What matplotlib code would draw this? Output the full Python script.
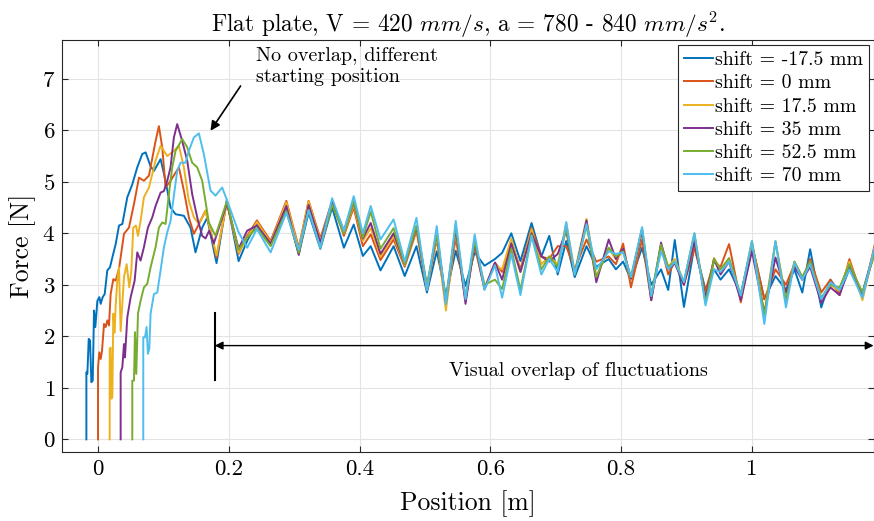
# -*- coding: utf-8 -*-
import numpy as np
import matplotlib
matplotlib.use("Agg")
import matplotlib.pyplot as plt

# Series labels and colours (MATLAB default order)
labels = ["shift = -17.5 mm", "shift = 0 mm", "shift = 17.5 mm",
          "shift = 35 mm", "shift = 52.5 mm", "shift = 70 mm"]
colors = ["#0072BD", "#D95319", "#EDB120", "#7E2F8E", "#77AC30", "#4DBEEE"]

# Start-up part of every run (position [m], force [N])
x_start_m175 = [-0.0178, -0.0178, -0.0163, -0.0142, -0.0122, -0.0102, -0.0081, -0.0061, -0.0041, -0.001,
                0.002, 0.0041, 0.0071, 0.0102, 0.0142, 0.0183, 0.0219, 0.027, 0.0321, 0.0372,
                0.0448, 0.0524, 0.060, 0.0677, 0.0728, 0.0804, 0.0855, 0.0957, 0.1033, 0.1109,
                0.1186, 0.1313, 0.1415, 0.1491, 0.1593, 0.1669, 0.1812]
y_start_m175 = [0.0, 1.30, 1.27, 1.95, 1.92, 1.11, 1.14, 2.50, 2.18, 2.69,
                2.76, 2.63, 2.76, 2.82, 3.28, 3.34, 3.53, 3.79, 4.15, 4.18,
                4.70, 4.95, 5.28, 5.54, 5.57, 5.30, 5.21, 5.44, 5.02, 4.50,
                4.37, 4.34, 4.11, 3.63, 4.11, 4.30, 3.42]

x_start_0 = [0.0, 0.0, 0.002, 0.0041, 0.0061, 0.0092, 0.0117, 0.0142, 0.0168, 0.0193,
             0.0234, 0.027, 0.0321, 0.0397, 0.0473, 0.055, 0.0626, 0.0702, 0.0779, 0.088,
             0.0931, 0.0982, 0.1033, 0.1109, 0.1237, 0.1313, 0.1389, 0.1466, 0.1567, 0.1644,
             0.172, 0.1812]
y_start_0 = [0.0, 1.40, 1.69, 1.56, 1.72, 2.24, 2.18, 2.31, 2.21, 2.82,
             3.11, 3.08, 3.31, 3.99, 4.11, 4.57, 5.08, 5.02, 5.12, 5.79,
             6.08, 5.67, 4.89, 5.02, 5.28, 4.83, 4.31, 3.99, 4.24, 4.44,
             4.05, 3.53]

x_start_175 = [0.0178, 0.0178, 0.0193, 0.0204, 0.0219, 0.0234, 0.0254, 0.027, 0.0295, 0.0321,
               0.0346, 0.0397, 0.0438, 0.0478, 0.0509, 0.0539, 0.058, 0.0611, 0.0651, 0.0702,
               0.0779, 0.088, 0.0957, 0.1059, 0.116, 0.1237, 0.1313, 0.1389, 0.1466, 0.1542,
               0.1644, 0.172, 0.1812]
y_start_175 = [0.0, 1.76, 1.78, 0.79, 0.82, 2.44, 2.07, 2.60, 3.08, 3.34,
               2.10, 3.15, 3.40, 2.95, 3.27, 4.11, 4.15, 3.95, 4.24, 4.70,
               4.89, 5.41, 5.70, 5.50, 5.60, 5.70, 5.28, 4.63, 4.31, 4.18,
               4.44, 4.05, 3.57]

x_start_35 = [0.0346, 0.0346, 0.0372, 0.0397, 0.0412, 0.0448, 0.0499, 0.056, 0.060, 0.0651,
              0.0702, 0.0763, 0.083, 0.088, 0.0957, 0.1008, 0.1059, 0.1109, 0.116, 0.1211,
              0.1288, 0.1364, 0.144, 0.1517, 0.1593, 0.1644, 0.170, 0.177]
y_start_35 = [0.0, 1.30, 1.40, 1.85, 1.59, 2.37, 2.76, 3.08, 3.63, 3.47,
              3.73, 4.11, 4.31, 4.53, 4.79, 4.82, 5.02, 5.28, 5.86, 6.12,
              5.79, 5.41, 4.76, 4.31, 3.95, 3.90, 4.05, 3.80]

x_start_525 = [0.0524, 0.0524, 0.055, 0.0565, 0.0585, 0.0611, 0.0651, 0.0702, 0.0753, 0.0804,
               0.088, 0.0931, 0.0982, 0.1033, 0.1084, 0.1135, 0.1186, 0.1288, 0.1364, 0.144,
               0.1517, 0.1593, 0.1695, 0.1796]
y_start_525 = [0.0, 1.14, 1.14, 2.08, 1.27, 2.44, 2.69, 2.95, 3.02, 3.34,
               3.73, 4.11, 4.21, 4.18, 4.76, 5.28, 5.60, 5.83, 5.67, 5.37,
               5.28, 5.02, 4.21, 3.95]

x_start_70 = [0.0692, 0.0692, 0.0718, 0.0743, 0.0763, 0.0784, 0.0804, 0.0855, 0.0906, 0.0957,
              0.1008, 0.1059, 0.1109, 0.116, 0.1211, 0.1262, 0.1338, 0.1389, 0.1466, 0.1542,
              0.1618, 0.172, 0.1796, 0.1898]
y_start_70 = [0.0, 1.98, 1.98, 2.18, 1.66, 1.76, 2.44, 2.82, 2.85, 3.28,
              3.73, 4.02, 4.24, 4.73, 5.21, 5.37, 5.37, 5.60, 5.86, 5.94,
              5.54, 4.83, 4.73, 4.89]

# Fluctuation part, read at the peaks/troughs (shared positions)
x_fluct = [0.197, 0.215, 0.228, 0.243, 0.264, 0.288, 0.307, 0.322, 0.340, 0.358,
           0.376, 0.391, 0.405, 0.417, 0.432, 0.452, 0.469, 0.487, 0.503, 0.518,
           0.532, 0.547, 0.562, 0.576, 0.591, 0.607, 0.618, 0.632, 0.646, 0.663,
           0.678, 0.690, 0.703, 0.716, 0.729, 0.747, 0.762, 0.781, 0.792, 0.803,
           0.815, 0.832, 0.846, 0.861, 0.872, 0.882, 0.896, 0.912, 0.929, 0.942,
           0.952, 0.965, 0.983, 1.000, 1.019, 1.036, 1.052, 1.065, 1.077, 1.089,
           1.106, 1.120, 1.134, 1.149, 1.169, 1.190]

y_fluct_m175 = [4.65, 3.46, 3.85, 4.20, 3.78, 4.45, 3.60, 4.40, 3.70, 4.50,
                3.72, 4.17, 3.56, 3.75, 3.28, 3.75, 3.17, 3.75, 2.85, 3.65,
                2.79, 3.66, 2.98, 3.63, 3.37, 3.50, 3.62, 4.00, 3.46, 4.20,
                3.55, 3.95, 3.20, 3.85, 3.15, 3.75, 3.35, 3.50, 3.30, 3.45,
                3.10, 3.72, 3.00, 3.30, 2.90, 3.87, 2.57, 3.75, 2.90, 3.30,
                3.10, 3.30, 2.82, 3.78, 2.72, 3.17, 2.90, 3.30, 2.85, 3.69,
                2.56, 3.10, 2.85, 3.30, 2.85, 3.80]
y_fluct_0 = [4.62, 3.60, 3.95, 4.25, 3.85, 4.63, 3.72, 4.63, 3.90, 4.63,
             3.95, 4.50, 3.75, 3.98, 3.48, 3.88, 3.35, 4.05, 2.90, 3.90,
             2.60, 3.92, 2.72, 3.75, 2.92, 3.43, 3.25, 3.85, 3.30, 4.10,
             3.55, 3.50, 3.75, 3.75, 3.30, 3.88, 3.45, 3.55, 3.40, 3.80,
             2.95, 3.88, 2.70, 3.75, 3.20, 3.45, 3.00, 3.72, 2.88, 3.45,
             3.35, 3.79, 2.66, 3.80, 2.72, 3.30, 3.00, 3.40, 3.10, 3.50,
             2.85, 3.10, 2.80, 3.50, 2.75, 3.90]
y_fluct_175 = [4.60, 3.62, 3.92, 4.22, 3.82, 4.60, 3.68, 4.62, 3.85, 4.60,
               4.00, 4.55, 3.85, 4.10, 3.55, 3.95, 3.38, 4.10, 2.90, 3.95,
               2.50, 4.05, 2.70, 3.80, 2.95, 3.38, 3.30, 3.90, 3.25, 4.08,
               3.40, 3.55, 3.40, 4.20, 3.25, 4.28, 3.15, 3.70, 3.50, 3.65,
               3.10, 4.05, 2.75, 3.75, 3.35, 3.50, 3.05, 3.95, 2.70, 3.52,
               3.30, 3.45, 2.75, 3.82, 2.45, 3.85, 2.70, 3.45, 3.15, 3.42,
               2.72, 3.00, 2.88, 3.45, 2.70, 3.85]
y_fluct_35 = [4.58, 3.70, 4.05, 4.15, 3.80, 4.53, 3.58, 4.55, 3.82, 4.62,
              4.05, 4.60, 3.90, 4.20, 3.60, 4.00, 3.40, 4.12, 2.95, 4.00,
              2.65, 4.10, 2.63, 3.82, 2.92, 3.43, 3.10, 3.80, 3.25, 4.00,
              3.55, 3.45, 3.60, 4.05, 3.20, 4.25, 3.05, 3.88, 3.50, 3.70,
              3.12, 4.05, 2.70, 3.82, 3.30, 3.42, 3.00, 3.85, 2.75, 3.50,
              3.20, 3.45, 2.70, 3.65, 2.45, 3.53, 2.85, 3.35, 3.10, 3.35,
              2.65, 2.95, 2.80, 3.35, 2.80, 3.75]
y_fluct_525 = [4.62, 3.68, 3.92, 4.10, 3.75, 4.43, 3.62, 4.45, 3.72, 4.55,
               4.00, 4.62, 3.92, 4.42, 3.70, 4.10, 3.40, 4.15, 3.00, 4.00,
               2.72, 4.15, 2.75, 3.85, 3.00, 3.10, 2.92, 3.70, 2.90, 3.97,
               3.30, 3.55, 3.35, 4.10, 3.20, 4.15, 3.15, 3.72, 3.55, 3.65,
               3.15, 4.10, 2.80, 3.78, 3.35, 3.45, 3.05, 4.00, 2.65, 3.50,
               3.30, 3.52, 2.80, 3.85, 2.40, 3.83, 2.70, 3.45, 3.15, 3.45,
               2.75, 3.00, 2.95, 3.40, 2.85, 3.70]
y_fluct_70 = [4.65, 4.02, 3.72, 4.08, 3.63, 4.40, 3.68, 4.45, 3.72, 4.68,
              4.05, 4.72, 4.00, 4.53, 3.88, 4.27, 3.45, 4.30, 2.90, 4.14,
              2.62, 4.24, 2.72, 3.98, 2.90, 3.38, 2.75, 3.60, 2.80, 3.95,
              3.20, 3.50, 3.25, 4.22, 3.20, 4.18, 3.30, 3.65, 3.60, 3.63,
              3.15, 4.12, 2.78, 3.65, 3.30, 3.45, 3.06, 4.00, 2.60, 3.30,
              3.25, 3.45, 2.79, 3.85, 2.24, 3.85, 2.56, 3.43, 3.10, 3.40,
              2.72, 3.05, 2.90, 3.30, 2.75, 3.85]

x_starts = [x_start_m175, x_start_0, x_start_175, x_start_35, x_start_525, x_start_70]
y_starts = [y_start_m175, y_start_0, y_start_175, y_start_35, y_start_525, y_start_70]
y_flucts = [y_fluct_m175, y_fluct_0, y_fluct_175, y_fluct_35, y_fluct_525, y_fluct_70]

# LaTeX-like look
plt.rcParams['font.family'] = 'serif'
plt.rcParams['font.serif'] = ['cmr10', 'DejaVu Serif']
plt.rcParams['mathtext.fontset'] = 'cm'
plt.rcParams['axes.formatter.use_mathtext'] = True
plt.rcParams['axes.unicode_minus'] = False

fig = plt.figure(figsize=(8.74, 5.21), dpi=100)
ax = fig.add_axes([0.071, 0.132, 0.9285, 0.791])

for xs, ys, yf, lab, col in zip(x_starts, y_starts, y_flucts, labels, colors):
    x = np.concatenate([xs, x_fluct])
    y = np.concatenate([ys, yf])
    ax.plot(x, y, color=col, lw=1.4, label=lab, solid_joinstyle='round')

# Axis setup
ax.set_xlim(-0.055, 1.186)
ax.set_ylim(-0.25, 7.75)
ax.set_xticks([0, 0.2, 0.4, 0.6, 0.8, 1.0])
ax.set_xticklabels(["0", "0.2", "0.4", "0.6", "0.8", "1"])
ax.set_yticks(range(0, 8))
ax.tick_params(direction='in', top=True, right=True, length=4, labelsize=16.5,
               color='#262626', pad=5)
ax.grid(True, color='#e3e3e3', lw=0.8)
ax.set_axisbelow(True)
for sp in ax.spines.values():
    sp.set_color('#262626')
    sp.set_linewidth(0.8)

ax.set_xlabel("Position [m]", fontsize=18.5, labelpad=8)
ax.set_ylabel("Force [N]", fontsize=18.5, labelpad=4)
ax.set_title("Flat plate, V = 420 $mm/s$, a = 780 - 840 $mm/s^2$.", fontsize=16.8, pad=6)

# Annotations
ax.text(0.241, 7.62, "No overlap, different\nstarting position", fontsize=14.5,
        ha='left', va='top', linespacing=1.2)
ax.annotate("", xy=(0.172, 5.99), xytext=(0.218, 6.86),
            arrowprops=dict(arrowstyle='-|>', color='k', lw=1.2, mutation_scale=14,
                            shrinkA=0, shrinkB=0))
ax.plot([0.1785, 0.1785], [1.16, 2.45], color='k', lw=1.5)
ax.annotate("", xy=(0.1785, 1.82), xytext=(1.186, 1.82),
            arrowprops=dict(arrowstyle='<|-|>', color='k', lw=1.0, mutation_scale=12,
                            shrinkA=0, shrinkB=0))
ax.text(0.734, 1.32, "Visual overlap of fluctuations", fontsize=14.5, ha='center', va='center')

# Legend
leg = ax.legend(loc='upper right', fontsize=14.3, handlelength=1.45, handletextpad=0.08,
                borderpad=0.3, labelspacing=0.27, fancybox=False, framealpha=1,
                borderaxespad=0.25)
leg.get_frame().set_edgecolor('#262626')
leg.get_frame().set_linewidth(0.8)

fig.savefig("out.png", dpi=100)
